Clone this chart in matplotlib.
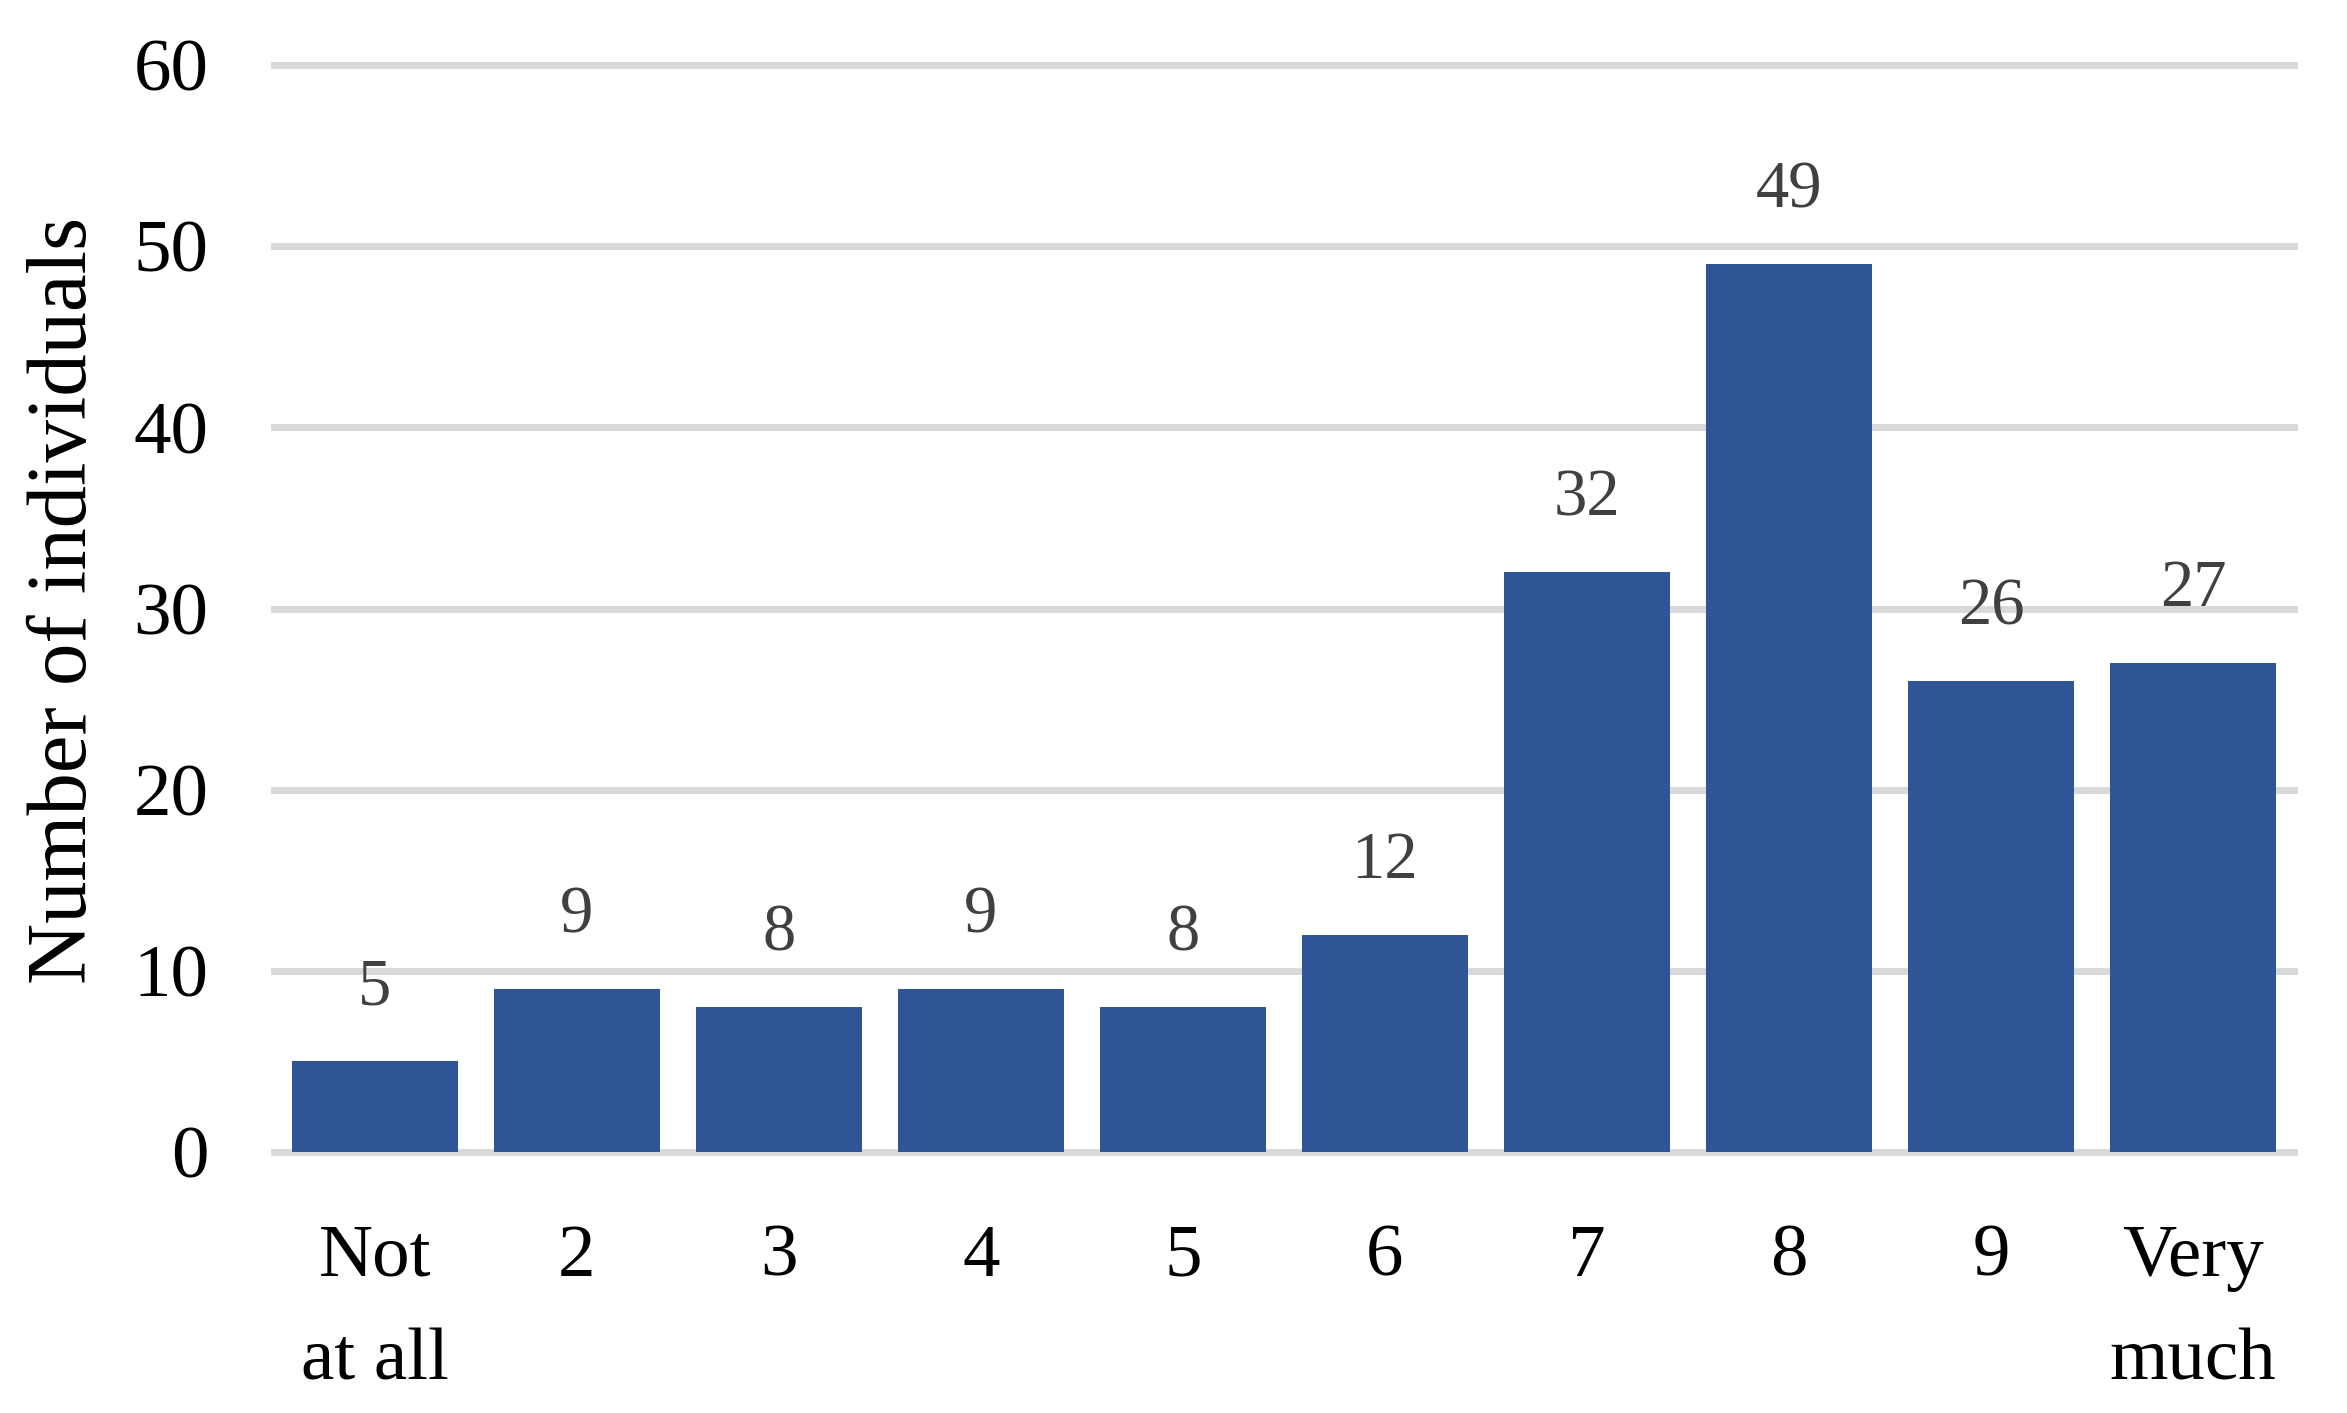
import matplotlib.pyplot as plt
import numpy as np

plt.rcParams['font.family'] = ['Liberation Serif', 'DejaVu Serif']

categories = ['Not\nat all', '2', '3', '4', '5', '6', '7', '8', '9', 'Very\nmuch']
counts = [5, 9, 8, 9, 8, 12, 32, 49, 26, 27]
yticks = [0, 10, 20, 30, 40, 50, 60]

bar_color = '#2F5597'
grid_color = '#D9D9D9'

fig = plt.figure(figsize=(23.47, 14.13), dpi=100)
ax = fig.add_axes([0.1167, 0.1847, 0.8607, 0.7693])

x = np.arange(len(categories))
bars = ax.bar(x, counts, width=0.822, color=bar_color, zorder=2)

for y in yticks:
    ax.axhline(y, color=grid_color, linewidth=5, zorder=1, clip_on=False)

for xi, v in zip(x, counts):
    ax.annotate(str(v), (xi, v), xytext=(0, 41), textcoords='offset points',
                ha='center', va='baseline', fontsize=48, color='#404040')

ax.set_xlim(-0.5, len(categories) - 0.5)
ax.set_ylim(0, 60)
ax.set_yticks(yticks)
ax.set_xticks(x)
ax.set_xticklabels(categories, linespacing=1.7)
ax.tick_params(axis='both', length=0, labelsize=54)
ax.tick_params(axis='y', pad=47)
ax.tick_params(axis='x', pad=52)

for s in ax.spines.values():
    s.set_visible(False)

ax.set_ylabel('Number of individuals', fontsize=61)
ax.yaxis.set_label_coords(-0.084, 0.507)

plt.savefig('out.png', dpi=100)
